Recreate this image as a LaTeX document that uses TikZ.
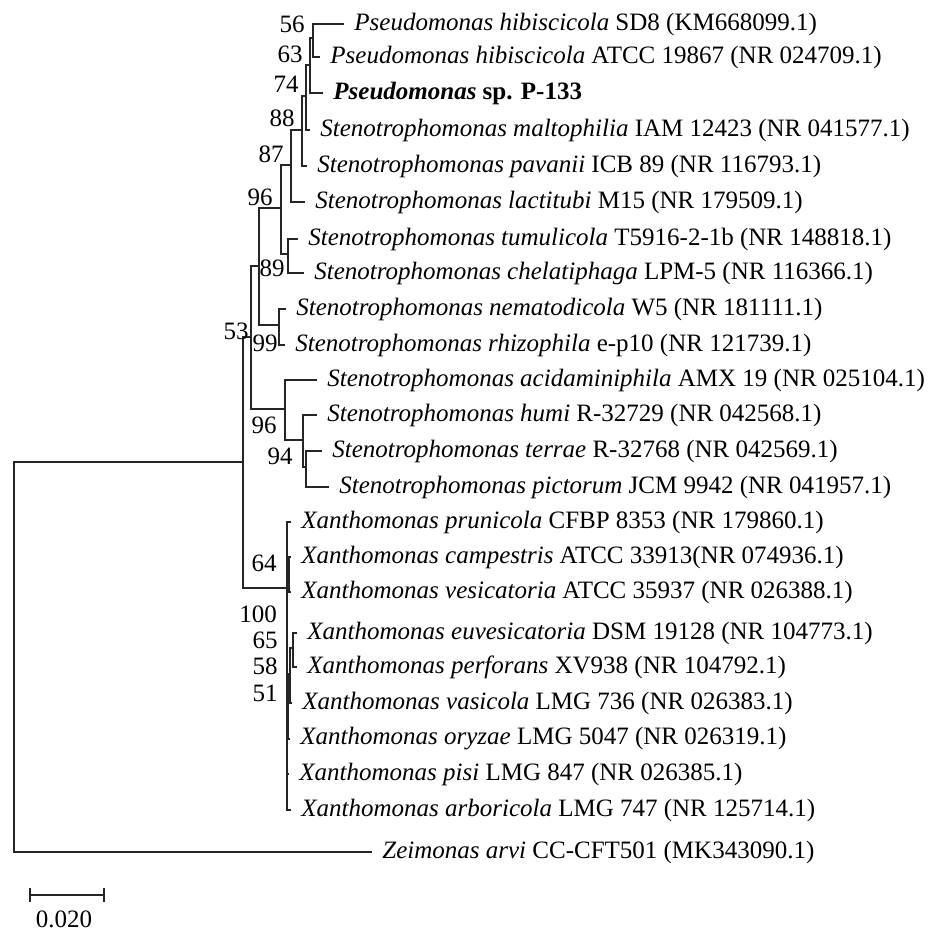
\documentclass[tikz,border=0pt]{standalone}
\usepackage{fontspec}
\setmainfont{Liberation Serif}
\begin{document}
\begin{tikzpicture}[x=0.5pt,y=-0.5pt,
	taxon/.style={anchor=west,inner xsep=5pt,inner ysep=0pt,yshift=-1pt,font=\fontsize{12.5}{14}\selectfont},
	boot/.style={inner sep=0pt,font=\fontsize{12.5}{14}\selectfont},
	branch/.style={line width=0.8pt,black!85}]
	\useasboundingbox (0,0) rectangle (938,936);

	\node[taxon] (t1) at (344,22) {\textit{Pseudomonas hibiscicola} SD8 (KM668099.1)};
	\node[taxon] (t2) at (320,55) {\textit{Pseudomonas hibiscicola} ATCC 19867 (NR 024709.1)};
	\node[taxon] (t3) at (323,91) {\textbf{\textit{Pseudomonas} sp. P-133}};
	\node[taxon] (t4) at (310,128) {\textit{Stenotrophomonas maltophilia} IAM 12423 (NR 041577.1)};
	\node[taxon] (t5) at (307,164) {\textit{Stenotrophomonas pavanii} ICB 89 (NR 116793.1)};
	\node[taxon] (t6) at (305,200) {\textit{Stenotrophomonas lactitubi} M15 (NR 179509.1)};
	\node[taxon] (t7) at (298,237) {\textit{Stenotrophomonas tumulicola} T5916-2-1b (NR 148818.1)};
	\node[taxon] (t8) at (304,271) {\textit{Stenotrophomonas chelatiphaga} LPM-5 (NR 116366.1)};
	\node[taxon] (t9) at (286,307) {\textit{Stenotrophomonas nematodicola} W5 (NR 181111.1)};
	\node[taxon] (t10) at (285,343) {\textit{Stenotrophomonas rhizophila} e-p10 (NR 121739.1)};
	\node[taxon] (t11) at (317,378) {\textit{Stenotrophomonas acidaminiphila} AMX 19 (NR 025104.1)};
	\node[taxon] (t12) at (317,413) {\textit{Stenotrophomonas humi} R-32729 (NR 042568.1)};
	\node[taxon] (t13) at (322,449) {\textit{Stenotrophomonas terrae} R-32768 (NR 042569.1)};
	\node[taxon] (t14) at (329,485) {\textit{Stenotrophomonas pictorum} JCM 9942 (NR 041957.1)};
	\node[taxon] (t15) at (291,520) {\textit{Xanthomonas prunicola} CFBP 8353 (NR 179860.1)};
	\node[taxon] (t16) at (291,555) {\textit{Xanthomonas campestris} ATCC 33913(NR 074936.1)};
	\node[taxon] (t17) at (291,590) {\textit{Xanthomonas vesicatoria} ATCC 35937 (NR 026388.1)};
	\node[taxon] (t18) at (297,631) {\textit{Xanthomonas euvesicatoria} DSM 19128 (NR 104773.1)};
	\node[taxon] (t19) at (297,665) {\textit{Xanthomonas perforans} XV938 (NR 104792.1)};
	\node[taxon] (t20) at (292,701) {\textit{Xanthomonas vasicola} LMG 736 (NR 026383.1)};
	\node[taxon] (t21) at (290,737) {\textit{Xanthomonas oryzae} LMG 5047 (NR 026319.1)};
	\node[taxon] (t22) at (289,772) {\textit{Xanthomonas pisi} LMG 847 (NR 026385.1)};
	\node[taxon] (t23) at (291,808) {\textit{Xanthomonas arboricola} LMG 747 (NR 125714.1)};
	\node[taxon] (t24) at (372,850) {\textit{Zeimonas arvi} CC-CFT501 (MK343090.1)};

	\coordinate (n56) at (313,38);
	\coordinate (n63) at (310,65);
	\coordinate (n74) at (306,96);
	\coordinate (n88) at (302,130);
	\coordinate (n87) at (291,165);
	\coordinate (n89) at (288,254);
	\coordinate (n96a) at (281,208);
	\coordinate (n99) at (279,325);
	\coordinate (nst) at (259,266);
	\coordinate (nter) at (306,467);
	\coordinate (n94) at (303,440);
	\coordinate (n96b) at (285,409);
	\coordinate (n53) at (251,337);
	\coordinate (n64) at (289,572);
	\coordinate (n65) at (293,648);
	\coordinate (n58) at (290,674);
	\coordinate (n51) at (288,705);
	\coordinate (n100) at (287,588);
	\coordinate (ningroup) at (243,462);
	\coordinate (root) at (14,656);

	\draw[branch] (n56) |- (t1.west) (n56) |- (t2.west);
	\draw[branch] (n63) |- (n56) (n63) |- (t3.west);
	\draw[branch] (n74) |- (n63) (n74) |- (t4.west);
	\draw[branch] (n88) |- (n74) (n88) |- (t5.west);
	\draw[branch] (n87) |- (n88) (n87) |- (t6.west);
	\draw[branch] (n89) |- (t7.west) (n89) |- (t8.west);
	\draw[branch] (n96a) |- (n87) (n96a) |- (n89);
	\draw[branch] (n99) |- (t9.west) (n99) |- (t10.west);
	\draw[branch] (nst) |- (n96a) (nst) |- (n99);
	\draw[branch] (nter) |- (t13.west) (nter) |- (t14.west);
	\draw[branch] (n94) |- (t12.west) (n94) |- (nter);
	\draw[branch] (n96b) |- (t11.west) (n96b) |- (n94);
	\draw[branch] (n53) |- (nst) (n53) |- (n96b);
	\draw[branch] (n64) |- (t16.west) (n64) |- (t17.west);
	\draw[branch] (n65) |- (t18.west) (n65) |- (t19.west);
	\draw[branch] (n58) |- (n65) (n58) |- (t20.west);
	\draw[branch] (n51) |- (n58) (n51) |- (t21.west);
	\draw[branch] (n100) |- (t15.west) (n100) |- (n64) (n100) |- (n51)
		(n100) |- (t22.west) (n100) |- (t23.west);
	\draw[branch] (ningroup) |- (n53) (ningroup) |- (n100);
	\draw[branch] (root) |- (ningroup) (root) |- (t24.west);

	\node[boot] (b56) at (292,24) {56};
	\node[boot] (b63) at (290,54) {63};
	\node[boot] (b74) at (286,84) {74};
	\node[boot] (b88) at (282,118) {88};
	\node[boot] (b87) at (271,154) {87};
	\node[boot] (b96a) at (260,197) {96};
	\node[boot] (b89) at (272,268) {89};
	\node[boot] (b53) at (236,331) {53};
	\node[boot] (b99) at (265,343) {99};
	\node[boot] (b96b) at (264,425) {96};
	\node[boot] (b94) at (280,456) {94};
	\node[boot] (b64) at (264,563) {64};
	\node[boot] (b100) at (258,614) {100};
	\node[boot] (b65) at (265,640) {65};
	\node[boot] (b58) at (265,666) {58};
	\node[boot] (b51) at (265,693) {51};

	\coordinate (s0) at (29,895);
	\coordinate (s1) at (105,895);
	\draw[branch,|-|] (s0) -- (s1);
	\node[boot] (scale) at (64,919) {0.020};
\end{tikzpicture}
\end{document}
